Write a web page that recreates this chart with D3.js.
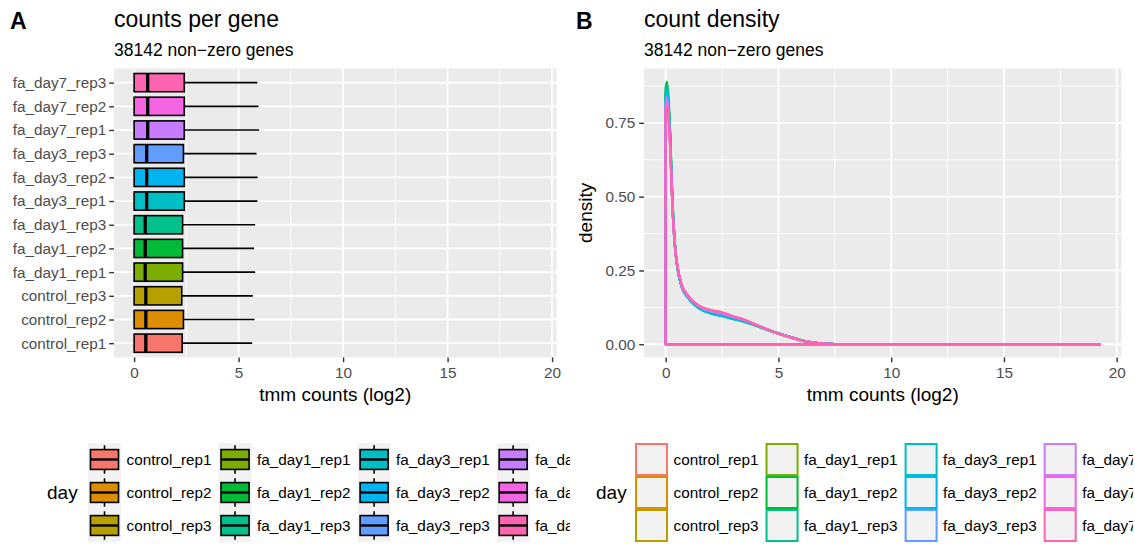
<!DOCTYPE html>
<html>
<head>
<meta charset="utf-8">
<script src="https://cdn.jsdelivr.net/npm/d3@7"></script>
<style>
  body { margin: 0; background: #fff; }
  text { font-family: "Liberation Sans", Arial, Helvetica, sans-serif; }
</style>
</head>
<body>
<div id="chart"></div>
<script>

// samples, bottom to top in panel A, and ggplot hue colours
var samples = ["control_rep1", "control_rep2", "control_rep3",
               "fa_day1_rep1", "fa_day1_rep2", "fa_day1_rep3",
               "fa_day3_rep1", "fa_day3_rep2", "fa_day3_rep3",
               "fa_day7_rep1", "fa_day7_rep2", "fa_day7_rep3"];
var colors = ["#F8766D", "#DE8C00", "#B79F00", "#7CAE00", "#00BA38", "#00C08B",
              "#00BFC4", "#00B4F0", "#619CFF", "#C77CFF", "#F564E3", "#FF64B0"];

// boxplot stats (log2 tmm counts)
var boxQ1     = [0, 0, 0, 0, 0, 0, 0, 0, 0, 0, 0, 0];
var boxMedian = [0.56, 0.56, 0.56, 0.53, 0.53, 0.53, 0.6, 0.6, 0.6, 0.65, 0.65, 0.65];
var boxQ3     = [2.3, 2.36, 2.28, 2.32, 2.32, 2.32, 2.4, 2.4, 2.36, 2.4, 2.4, 2.4];
var boxUpper  = [5.65, 5.76, 5.68, 5.79, 5.74, 5.79, 5.9, 5.91, 5.86, 5.98, 5.95, 5.9];

// density curves
var densityX = [0, 0.05, 0.1, 0.2, 0.3, 0.4, 0.5, 0.7, 1.0, 1.5, 2.0, 2.5, 3.0, 3.5,
                4.0, 4.5, 5.0, 5.5, 6.0, 6.5, 7.0, 8.0, 19.25];
var dControl1 = [0.82,0.84,0.81,0.68,0.47,0.34,0.27,0.2,0.16,0.125,0.11,0.1,0.09,0.08,0.066,0.051,0.037,0.025,0.014,0.006,0.002,0,0];
var dControl2 = [0.83,0.85,0.82,0.685,0.47,0.34,0.27,0.2,0.16,0.125,0.11,0.101,0.091,0.081,0.066,0.051,0.037,0.025,0.014,0.006,0.002,0,0];
var dControl3 = [0.84,0.86,0.83,0.69,0.475,0.345,0.272,0.2,0.16,0.124,0.109,0.1,0.09,0.08,0.065,0.05,0.036,0.024,0.013,0.006,0.002,0,0];
var dDay1Rep1 = [0.85,0.87,0.84,0.70,0.48,0.345,0.27,0.198,0.158,0.122,0.107,0.098,0.088,0.078,0.064,0.05,0.036,0.024,0.013,0.005,0.002,0,0];
var dDay1Rep2 = [0.87,0.89,0.86,0.71,0.485,0.35,0.272,0.198,0.157,0.121,0.105,0.096,0.086,0.077,0.063,0.049,0.036,0.024,0.013,0.005,0.002,0,0];
var dDay1Rep3 = [0.86,0.88,0.85,0.705,0.48,0.348,0.27,0.197,0.156,0.12,0.104,0.095,0.085,0.076,0.063,0.049,0.036,0.024,0.013,0.005,0.002,0,0];
var dDay3Rep1 = [0.84,0.86,0.83,0.69,0.475,0.345,0.27,0.197,0.157,0.121,0.105,0.096,0.086,0.077,0.064,0.05,0.037,0.025,0.014,0.006,0.002,0,0];
var dDay3Rep2 = [0.83,0.85,0.82,0.685,0.47,0.342,0.27,0.198,0.158,0.123,0.107,0.098,0.088,0.079,0.065,0.05,0.037,0.025,0.014,0.006,0.002,0,0];
var dDay3Rep3 = [0.82,0.84,0.81,0.68,0.468,0.34,0.272,0.2,0.16,0.126,0.111,0.102,0.091,0.081,0.066,0.05,0.036,0.024,0.013,0.006,0.002,0,0];
var dDay7Rep1 = [0.81,0.83,0.80,0.675,0.465,0.34,0.273,0.202,0.162,0.128,0.113,0.105,0.093,0.082,0.066,0.05,0.036,0.024,0.013,0.006,0.002,0,0];
var dDay7Rep2 = [0.80,0.815,0.79,0.668,0.462,0.34,0.274,0.204,0.164,0.129,0.115,0.107,0.094,0.083,0.066,0.05,0.036,0.024,0.013,0.006,0.002,0,0];
var dDay7Rep3 = [0.79,0.805,0.78,0.66,0.46,0.34,0.275,0.205,0.165,0.13,0.116,0.108,0.095,0.083,0.066,0.05,0.036,0.024,0.013,0.006,0.002,0,0];
var densityY = [dControl1, dControl2, dControl3, dDay1Rep1, dDay1Rep2, dDay1Rep3,
                dDay3Rep1, dDay3Rep2, dDay3Rep3, dDay7Rep1, dDay7Rep2, dDay7Rep3];

var xTicks = [0, 5, 10, 15, 20],
    xMinor = [2.5, 7.5, 12.5, 17.5],
    yTicks = [0, 0.25, 0.5, 0.75],
    yMinor = [0.125, 0.375, 0.625, 0.875];

var W = 1135, H = 544,
    pTop = 68.4, pBottom = 357.4,
    xMax = 19.25, yMax = 0.89,
    tickLen = 4.8,
    axisFont = "15.3px", greyText = "#4D4D4D";

var svg = d3.select("#chart").append("svg")
      .attr("width", W)
      .attr("height", H);

var defs = svg.append("defs");
defs.append("clipPath").attr("id", "clipA")
  .append("rect").attr("x", 0).attr("y", 0).attr("width", 570).attr("height", H);
defs.append("clipPath").attr("id", "clipB")
  .append("rect").attr("x", 570).attr("y", 0).attr("width", 563).attr("height", H);

var gA = svg.append("g").attr("clip-path", "url(#clipA)"),
    gB = svg.append("g").attr("clip-path", "url(#clipB)");

var xA = d3.scaleLinear().domain([-0.05 * xMax, 1.05 * xMax]).range([114, 556.5]),
    yA = d3.scalePoint().domain(samples).range([pBottom, pTop]).padding(0.6),
    xB = d3.scaleLinear().domain([-0.05 * xMax, 1.05 * xMax]).range([644, 1121.5]),
    yB = d3.scaleLinear().domain([-0.05 * yMax, 1.05 * yMax]).range([pBottom, pTop]);

function styleAxis(g) {
  g.select(".domain").remove();
  g.selectAll(".tick line").style("stroke", "#333").style("stroke-width", 1.4);
  g.selectAll(".tick text").style("fill", greyText).style("font-size", axisFont)
    .style("font-family", '"Liberation Sans", Arial, sans-serif');
}

function title(g, letter, lx, main, px) {
  g.append("text").attr("x", lx).attr("y", 29)
    .style("font-size", "23px").style("font-weight", "bold").text(letter);
  g.append("text").attr("x", px).attr("y", 27)
    .style("font-size", "23px").text(main);
  g.append("text").attr("x", px).attr("y", 56)
    .style("font-size", "17.5px").text("38142 non\u2212zero genes");
}

/* ---------- panel A: counts per gene ---------- */
title(gA, "A", 10, "counts per gene", 114);

gA.append("rect")
  .attr("x", xA.range()[0]).attr("y", pTop)
  .attr("width", xA.range()[1] - xA.range()[0]).attr("height", pBottom - pTop)
  .style("fill", "#EBEBEB");

gA.selectAll(".vminor").data(xMinor).enter().append("line")
  .attr("x1", xA).attr("x2", xA).attr("y1", pTop).attr("y2", pBottom)
  .style("stroke", "#fff").style("stroke-width", 0.9);
gA.selectAll(".vmajor").data(xTicks).enter().append("line")
  .attr("x1", xA).attr("x2", xA).attr("y1", pTop).attr("y2", pBottom)
  .style("stroke", "#fff").style("stroke-width", 1.8);
gA.selectAll(".hmajor").data(samples).enter().append("line")
  .attr("x1", xA.range()[0]).attr("x2", xA.range()[1])
  .attr("y1", yA).attr("y2", yA)
  .style("stroke", "#fff").style("stroke-width", 1.8);

var boxH = yA.step() * 0.77;
var boxes = gA.selectAll(".box").data(samples).enter().append("g");

boxes.append("line")
  .attr("x1", function(d, i) { return xA(boxQ3[i]); })
  .attr("x2", function(d, i) { return xA(boxUpper[i]); })
  .attr("y1", yA).attr("y2", yA)
  .style("stroke", "#000").style("stroke-width", 1.7);
boxes.append("rect")
  .attr("x", function(d, i) { return xA(boxQ1[i]); })
  .attr("y", function(d) { return yA(d) - boxH / 2; })
  .attr("width", function(d, i) { return xA(boxQ3[i]) - xA(boxQ1[i]); })
  .attr("height", boxH)
  .style("fill", function(d, i) { return colors[i]; })
  .style("stroke", "#000").style("stroke-width", 1.6);
boxes.append("line")
  .attr("x1", function(d, i) { return xA(boxMedian[i]); })
  .attr("x2", function(d, i) { return xA(boxMedian[i]); })
  .attr("y1", function(d) { return yA(d) - boxH / 2; })
  .attr("y2", function(d) { return yA(d) + boxH / 2; })
  .style("stroke", "#000").style("stroke-width", 3.3);

gA.append("g").attr("transform", "translate(0," + pBottom + ")")
  .call(d3.axisBottom(xA).tickValues(xTicks).tickSize(tickLen).tickPadding(4.5))
  .call(styleAxis);
gA.append("g").attr("transform", "translate(" + xA.range()[0] + ",0)")
  .call(d3.axisLeft(yA).tickSize(tickLen).tickPadding(3))
  .call(styleAxis);

gA.append("text")
  .attr("x", (xA.range()[0] + xA.range()[1]) / 2).attr("y", 401)
  .attr("text-anchor", "middle").style("font-size", "19px")
  .text("tmm counts (log2)");

/* ---------- panel B: count density ---------- */
title(gB, "B", 576, "count density", 644);

gB.append("rect")
  .attr("x", xB.range()[0]).attr("y", pTop)
  .attr("width", xB.range()[1] - xB.range()[0]).attr("height", pBottom - pTop)
  .style("fill", "#EBEBEB");

gB.selectAll(".hminor").data(yMinor).enter().append("line")
  .attr("x1", xB.range()[0]).attr("x2", xB.range()[1]).attr("y1", yB).attr("y2", yB)
  .style("stroke", "#fff").style("stroke-width", 0.9);
gB.selectAll(".vminor").data(xMinor).enter().append("line")
  .attr("x1", xB).attr("x2", xB).attr("y1", pTop).attr("y2", pBottom)
  .style("stroke", "#fff").style("stroke-width", 0.9);
gB.selectAll(".hmajor").data(yTicks).enter().append("line")
  .attr("x1", xB.range()[0]).attr("x2", xB.range()[1]).attr("y1", yB).attr("y2", yB)
  .style("stroke", "#fff").style("stroke-width", 1.8);
gB.selectAll(".vmajor").data(xTicks).enter().append("line")
  .attr("x1", xB).attr("x2", xB).attr("y1", pTop).attr("y2", pBottom)
  .style("stroke", "#fff").style("stroke-width", 1.8);

var curve = d3.line()
  .x(function(d) { return xB(d[0]); })
  .y(function(d) { return yB(d[1]); })
  .curve(d3.curveMonotoneX);

gB.selectAll(".density").data(densityY).enter().append("path")
  .attr("d", function(ys) {
    var pts = densityX.map(function(x, j) { return [x, ys[j]]; });
    var x0 = densityX[0], x1 = densityX[densityX.length - 1];
    return "M" + xB(x0) + "," + yB(0) + "L" + curve(pts).slice(1) +
           "L" + xB(x1) + "," + yB(0) + "Z";
  })
  .style("fill", "none")
  .style("stroke", function(d, i) { return colors[i]; })
  .style("stroke-width", 2.3)
  .style("stroke-linejoin", "round");

gB.append("g").attr("transform", "translate(0," + pBottom + ")")
  .call(d3.axisBottom(xB).tickValues(xTicks).tickSize(tickLen).tickPadding(4.5))
  .call(styleAxis);
gB.append("g").attr("transform", "translate(" + xB.range()[0] + ",0)")
  .call(d3.axisLeft(yB).tickValues(yTicks).tickFormat(d3.format(".2f"))
        .tickSize(tickLen).tickPadding(4))
  .call(styleAxis);

gB.append("text")
  .attr("x", (xB.range()[0] + xB.range()[1]) / 2).attr("y", 401)
  .attr("text-anchor", "middle").style("font-size", "19px")
  .text("tmm counts (log2)");
gB.append("text")
  .attr("transform", "translate(592," + (pTop + pBottom) / 2 + ") rotate(-90)")
  .attr("text-anchor", "middle").style("font-size", "19px")
  .text("density");

/* ---------- legends ---------- */
var keySize = 33, keyTop = 443, keyGap = 5.5, colGap = 7;

function legend(g, titleX, keyX, drawKey) {
  g.append("text").attr("x", titleX).attr("y", keyTop + 1.5 * keySize + 6.5)
    .style("font-size", "19px").text("day");

  var x = keyX;
  for (var c = 0; c < 4; c++) {
    var widest = 0;
    for (var r = 0; r < 3; r++) {
      var i = c * 3 + r,
          ky = keyTop + r * keySize;
      g.append("rect").attr("x", x).attr("y", ky)
        .attr("width", keySize).attr("height", keySize)
        .style("fill", "#F2F2F2");
      drawKey(g, x, ky, colors[i]);
      var t = g.append("text")
        .attr("x", x + keySize + keyGap).attr("y", ky + keySize / 2)
        .attr("dy", "0.35em").style("font-size", "15.3px")
        .text(samples[i]);
      widest = Math.max(widest, t.node().getComputedTextLength());
    }
    x += keySize + keyGap + widest + colGap;
  }
}

legend(gA, 47, 88, function(g, kx, ky, col) {
  var cx = kx + keySize / 2;
  g.append("line").attr("x1", cx).attr("x2", cx)
    .attr("y1", ky + 0.07 * keySize).attr("y2", ky + 0.93 * keySize)
    .style("stroke", "#000").style("stroke-width", 1.6);
  g.append("rect").attr("x", kx + 0.075 * keySize).attr("y", ky + 0.2 * keySize)
    .attr("width", 0.85 * keySize).attr("height", 0.6 * keySize)
    .style("fill", col).style("stroke", "#000").style("stroke-width", 1.6);
  g.append("line").attr("x1", kx + 0.075 * keySize).attr("x2", kx + 0.925 * keySize)
    .attr("y1", ky + keySize / 2).attr("y2", ky + keySize / 2)
    .style("stroke", "#000").style("stroke-width", 2.4);
});

legend(gB, 596, 635, function(g, kx, ky, col) {
  g.append("rect").attr("x", kx + 1).attr("y", ky + 1)
    .attr("width", keySize - 2).attr("height", keySize - 2)
    .style("fill", "none").style("stroke", col).style("stroke-width", 2);
});

</script>
</body>
</html>
